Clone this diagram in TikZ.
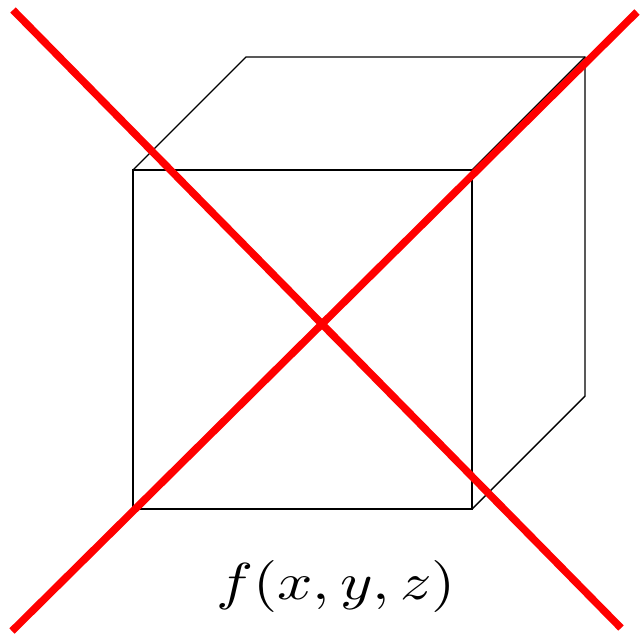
\documentclass[tikz,border=0pt]{standalone}
\usepackage{graphicx}
\begin{document}
\begin{tikzpicture}[x=1pt,y=-1pt,
  edge/.style={draw=black,line width=1.4pt,line join=miter},
  cross/.style={draw=red,line width=7.5pt}]
\useasboundingbox (0,0) rectangle (642,641);
% cube corners
\coordinate (f1) at (133,170);
\coordinate (f2) at (472,170);
\coordinate (f3) at (472,509);
\coordinate (f4) at (133,509);
\coordinate (b1) at (246,57);
\coordinate (b2) at (585,57);
\coordinate (b3) at (585,396);
\draw[edge] (f1) -- (f2) -- (f3) -- (f4) -- cycle;
\draw[edge] (f1) -- (b1) -- (b2) -- (b3) -- (f3);
\draw[edge] (f2) -- (b2);
% cross
\coordinate (c1) at (13,10);
\coordinate (c2) at (621,628);
\coordinate (c3) at (12,631);
\coordinate (c4) at (637,12);
\draw[cross] (c1) -- (c2);
\draw[cross] (c3) -- (c4);
\node[inner sep=0pt] (lbl) at (336,586) {\scalebox{6.2}[5.2]{$f(x,y,z)$}};
\end{tikzpicture}
\end{document}
